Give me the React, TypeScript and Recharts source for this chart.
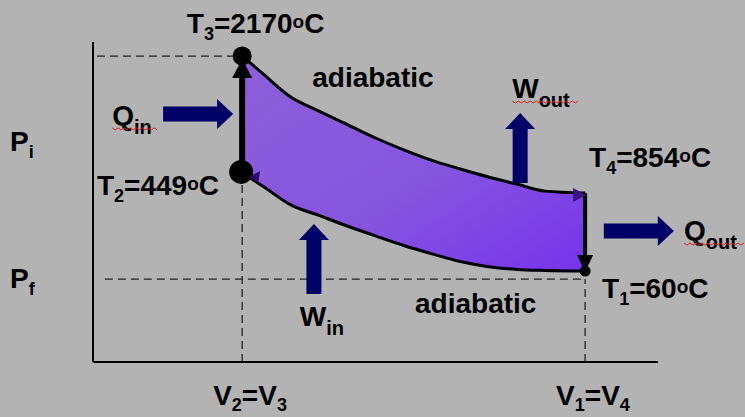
import React from "react";
import { ComposedChart, Area, Line, XAxis, YAxis, ReferenceLine, ReferenceDot } from "recharts";

// Otto cycle on a P-V diagram. Both axes are unitless, 0..100 of the axis span.
const volume = [26.4, 30, 35, 40, 45, 50, 55, 60, 65, 70, 75, 80, 87.1];
// adiabatic expansion 3 -> 4 (upper edge)
const pressureExpansion = [95.6, 90.2, 82.8, 78.4, 74.2, 70.0, 66.3, 63.0, 60.3, 57.8, 55.6, 53.4, 52.8];
// adiabatic compression 1 -> 2 (lower edge)
const pressureCompression = [59.1, 55.0, 49.1, 45.8, 42.5, 39.4, 36.4, 33.8, 31.4, 29.8, 28.9, 28.6, 28.4];

// states 1..4
const stateIds = ["1", "2", "3", "4"];
const stateTempC = [60, 449, 2170, 854];
const stateVolume = [87.1, 26.4, 26.4, 87.1];
const statePressure = [28.4, 59.1, 95.6, 52.8];

const pressureTicks = [68.9, 25.9];
const pressureTickSubs = ["i", "f"];
const volumeTicks = [26.4, 87.1];
const volumeTickSubs = [["2", "3"], ["1", "4"]];

const pressureFinal = 25.9;

const data = volume.map((v, i) => ({
  v,
  hi: pressureExpansion[i],
  lo: pressureCompression[i],
  band: [pressureCompression[i], pressureExpansion[i]],
}));

const FONT = "'Liberation Sans', Arial, Helvetica, sans-serif";
const NAVY = "#000066";

// annotation anchors (data coords) -- where the text baseline starts
const stateLabelV = [90.1, 0.7, 16.6, 87.8];
const stateLabelP = [20.0, 52.2, 102.8, 60.9];

const processLabels = [
  { text: "adiabatic", v: 38.8, p: 85.9 },
  { text: "adiabatic", v: 57.0, p: 15.3 },
];

const energyLabels = [
  { main: "Q", sub: "in", v: 3.4, p: 74.1, wavy: 46 },
  { main: "W", sub: "out", v: 74.2, p: 82.5, wavy: 68 },
  { main: "Q", sub: "out", v: 104.6, p: 38.1, wavy: 62 },
  { main: "W", sub: "in", v: 36.6, p: 11.3, wavy: 0 },
];

// block arrows, tip position
const energyArrows = [
  { v: 24.8, p: 77.5, dir: "right" },
  { v: 75.6, p: 77.8, dir: "up" },
  { v: 102.8, p: 40.9, dir: "right" },
  { v: 39.1, p: 43.1, dir: "up" },
];

function wavyPath(x: number, y: number, w: number) {
  let d = `M${x},${y}`;
  for (let i = 3, k = 0; i <= w; i += 3, k++) d += ` L${x + i},${y + (k % 2 === 0 ? 2 : 0)}`;
  return d;
}

function BlockArrow({ cx, cy, dir }: any) {
  const L = 70, hl = 16, ht = 7.5, hh = 15;
  const d =
    dir === "right"
      ? `M${cx},${cy} L${cx - hl},${cy - hh} L${cx - hl},${cy - ht} L${cx - L},${cy - ht} L${cx - L},${cy + ht} L${cx - hl},${cy + ht} L${cx - hl},${cy + hh} Z`
      : `M${cx},${cy} L${cx + hh},${cy + hl} L${cx + ht},${cy + hl} L${cx + ht},${cy + L} L${cx - ht},${cy + L} L${cx - ht},${cy + hl} L${cx - hh},${cy + hl} Z`;
  return <path d={d} fill={NAVY} />;
}

function StateMarker({ cx, cy, idx }: any) {
  if (idx === 2) {
    return (
      <g>
        <circle cx={cx} cy={cy} r={9.5} fill="#000" />
        <path d={`M${cx},${cy + 3} L${cx - 10},${cy + 22} L${cx + 10},${cy + 22} Z`} fill="#000" />
      </g>
    );
  }
  if (idx === 1) {
    return (
      <g>
        <circle cx={cx - 1} cy={cy - 1} r={12} fill="#000" />
        <path d={`M${cx + 7},${cy + 4} L${cx + 18},${cy - 2} L${cx + 16},${cy + 10} Z`} fill="#2a0a66" />
      </g>
    );
  }
  if (idx === 3) {
    return <path d={`M${cx + 1},${cy + 2} L${cx - 12},${cy - 5} L${cx - 12},${cy + 9} Z`} fill="#3a1480" />;
  }
  return (
    <g>
      <path d={`M${cx},${cy + 1} L${cx - 8},${cy - 16} L${cx + 8},${cy - 16} Z`} fill="#000" />
      <circle cx={cx} cy={cy} r={5.5} fill="#000" />
    </g>
  );
}

function TempLabel({ cx, cy, idx }: any) {
  return (
    <text x={cx} y={cy} fontFamily={FONT} fontWeight="bold" fontSize={28} fill="#000">
      T<tspan fontSize={18} dy={7}>{stateIds[idx]}</tspan>
      <tspan dy={-7}>={stateTempC[idx]}</tspan>
      <tspan fontSize={19} dy={-5}>o</tspan>
      <tspan dy={5}>C</tspan>
    </text>
  );
}

function EnergyLabel({ cx, cy, item }: any) {
  return (
    <g>
      <text x={cx} y={cy} fontFamily={FONT} fontWeight="bold" fontSize={28} fill="#000">
        {item.main}
        <tspan fontSize={20} dy={9}>{item.sub}</tspan>
      </text>
      {item.wavy > 0 && <path d={wavyPath(cx, cy + 3, item.wavy)} stroke="#e02020" strokeWidth={1} fill="none" />}
    </g>
  );
}

function PressureTick({ y, payload }: any) {
  const i = pressureTicks.indexOf(payload.value);
  return (
    <text x={10} y={y + 9} fontFamily={FONT} fontWeight="bold" fontSize={28} fill="#000">
      P<tspan fontSize={18} dy={7}>{pressureTickSubs[i]}</tspan>
    </text>
  );
}

function VolumeTick({ x, y, payload }: any) {
  const i = volumeTicks.indexOf(payload.value);
  const [a, b] = volumeTickSubs[i];
  return (
    <text x={x - 29} y={y + 35} fontFamily={FONT} fontWeight="bold" fontSize={28} fill="#000">
      V<tspan fontSize={18} dy={6}>{a}</tspan>
      <tspan dy={-6}>=V</tspan>
      <tspan fontSize={18} dy={6}>{b}</tspan>
    </text>
  );
}

const dash = { stroke: "#222", strokeWidth: 1.3, strokeDasharray: "8 5" };

export default function App() {
  return (
    <div style={{ position: "absolute", left: 0, top: 0, width: 745, height: 417, background: "#b3b3b3", overflow: "hidden" }}>
      <ComposedChart width={745} height={417} data={data} margin={{ top: 42, right: 87, bottom: 15, left: 0 }}>
        <defs>
          <linearGradient id="cycleFill" x1="0" y1="0" x2="1" y2="1">
            <stop offset="0%" stopColor="#8d5fd9" />
            <stop offset="55%" stopColor="#8655de" />
            <stop offset="100%" stopColor="#7634ec" />
          </linearGradient>
        </defs>
        <XAxis
          type="number"
          dataKey="v"
          domain={[0, 100]}
          ticks={volumeTicks}
          tick={<VolumeTick />}
          tickLine={false}
          axisLine={{ stroke: "#000", strokeWidth: 2 }}
          height={40}
          allowDataOverflow
        />
        <YAxis
          type="number"
          domain={[0, 100]}
          ticks={pressureTicks}
          tick={<PressureTick />}
          tickLine={false}
          axisLine={{ stroke: "#000", strokeWidth: 2 }}
          width={93}
          allowDataOverflow
        />
        <ReferenceLine segment={[{ x: 0.7, y: statePressure[2] }, { x: stateVolume[2], y: statePressure[2] }]} {...dash} ifOverflow="visible" />
        <ReferenceLine segment={[{ x: 2.1, y: pressureFinal }, { x: stateVolume[0], y: pressureFinal }]} {...dash} ifOverflow="visible" />
        <ReferenceLine segment={[{ x: stateVolume[1], y: 0 }, { x: stateVolume[1], y: statePressure[1] }]} {...dash} ifOverflow="visible" />
        <ReferenceLine segment={[{ x: stateVolume[0], y: 0 }, { x: stateVolume[0], y: pressureFinal }]} {...dash} ifOverflow="visible" />
        <Area dataKey="band" type="monotone" fill="url(#cycleFill)" fillOpacity={1} stroke="none" isAnimationActive={false} />
        <Line dataKey="hi" type="monotone" stroke="#000" strokeWidth={3} dot={false} activeDot={false} isAnimationActive={false} />
        <Line dataKey="lo" type="monotone" stroke="#000" strokeWidth={3} dot={false} activeDot={false} isAnimationActive={false} />
        <ReferenceLine segment={[{ x: stateVolume[1], y: statePressure[1] }, { x: stateVolume[2], y: statePressure[2] }]} stroke="#000" strokeWidth={6} ifOverflow="visible" />
        <ReferenceLine segment={[{ x: stateVolume[3], y: statePressure[3] }, { x: stateVolume[0], y: statePressure[0] }]} stroke="#000" strokeWidth={4} ifOverflow="visible" />
        {stateIds.map((id, i) => (
          <ReferenceDot key={`s${id}`} x={stateVolume[i]} y={statePressure[i]} ifOverflow="visible" shape={(p: any) => <StateMarker {...p} idx={i} />} />
        ))}
        {stateIds.map((id, i) => (
          <ReferenceDot key={`t${id}`} x={stateLabelV[i]} y={stateLabelP[i]} ifOverflow="visible" shape={(p: any) => <TempLabel {...p} idx={i} />} />
        ))}
        {processLabels.map((l, i) => (
          <ReferenceDot
            key={`p${i}`}
            x={l.v}
            y={l.p}
            ifOverflow="visible"
            shape={(p: any) => (
              <text x={p.cx} y={p.cy} fontFamily={FONT} fontWeight="bold" fontSize={28} fill="#000">
                {l.text}
              </text>
            )}
          />
        ))}
        {energyLabels.map((l, i) => (
          <ReferenceDot key={`e${i}`} x={l.v} y={l.p} ifOverflow="visible" shape={(p: any) => <EnergyLabel {...p} item={l} />} />
        ))}
        {energyArrows.map((a, i) => (
          <ReferenceDot key={`a${i}`} x={a.v} y={a.p} ifOverflow="visible" shape={(p: any) => <BlockArrow {...p} dir={a.dir} />} />
        ))}
      </ComposedChart>
    </div>
  );
}
